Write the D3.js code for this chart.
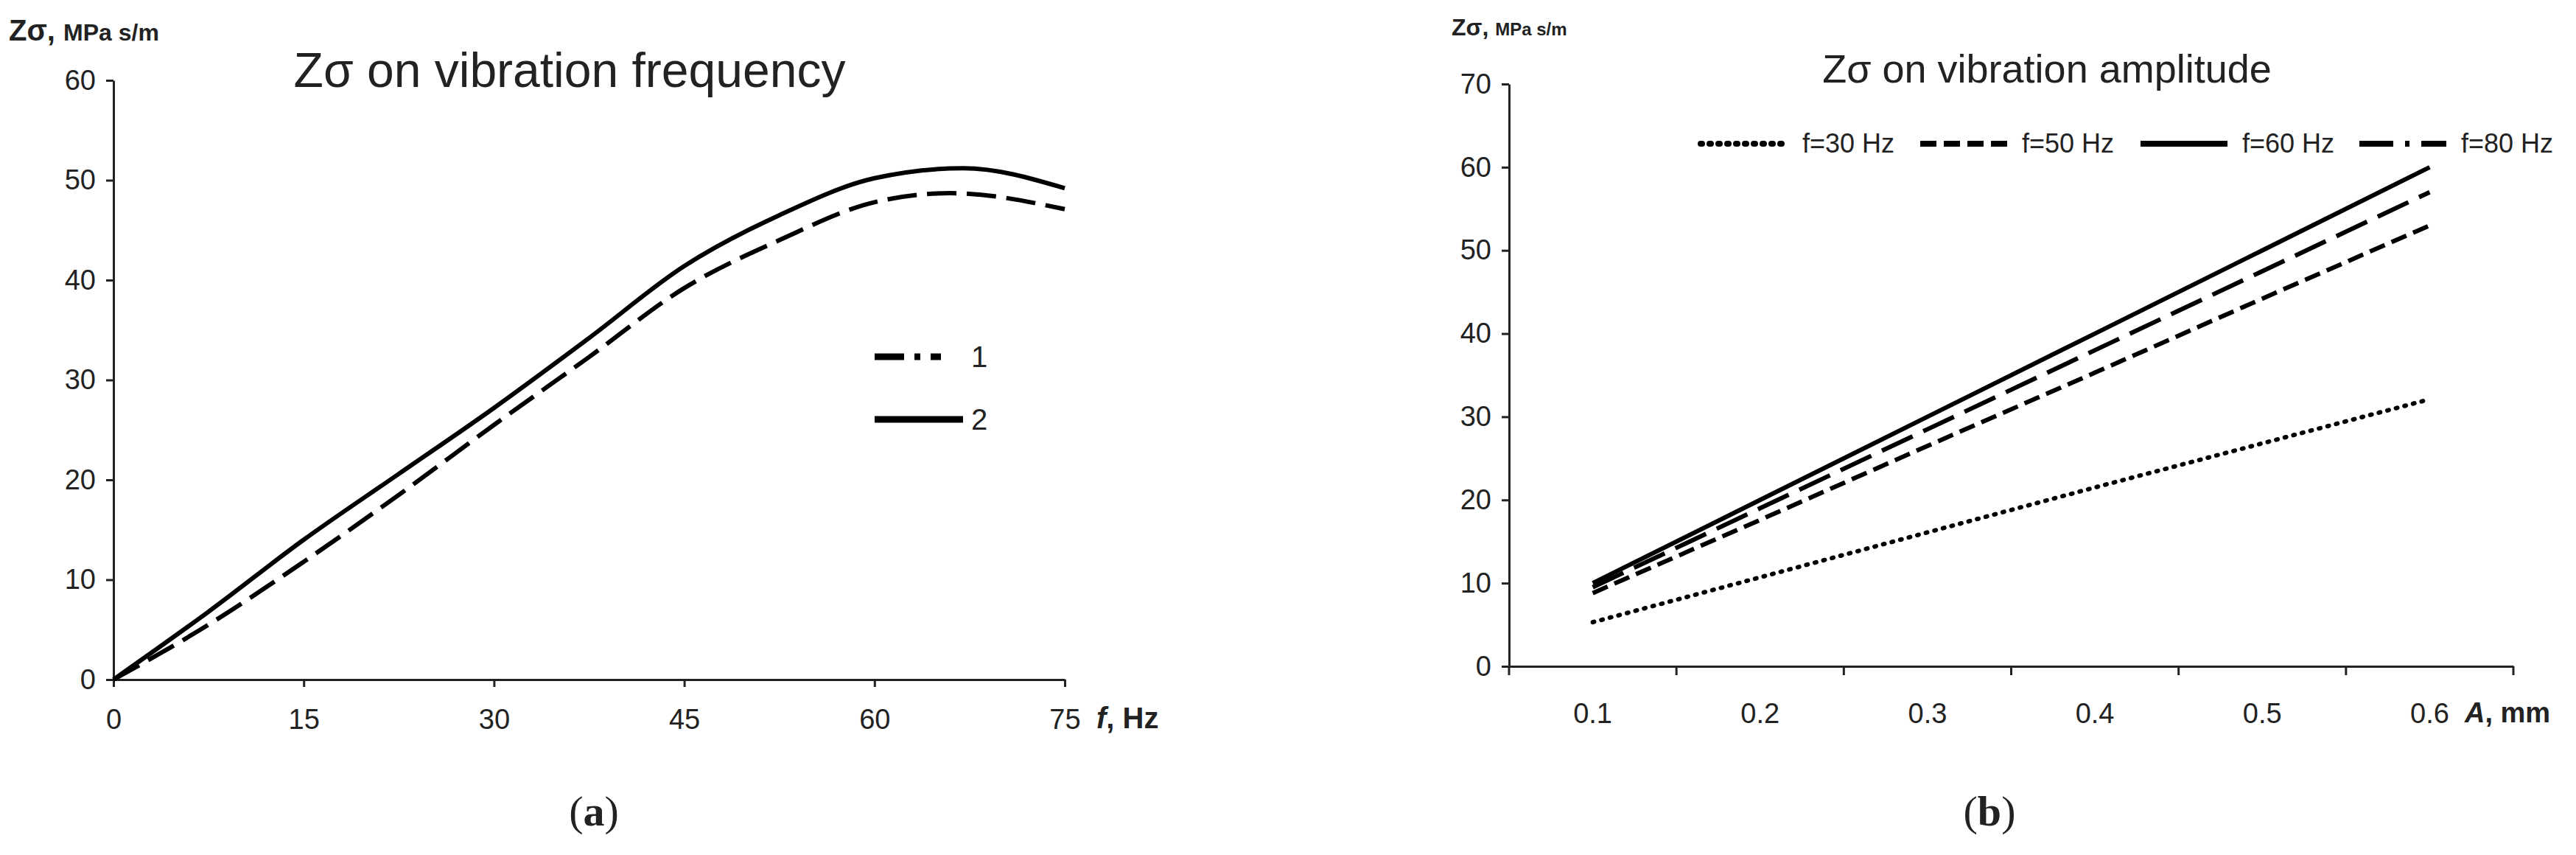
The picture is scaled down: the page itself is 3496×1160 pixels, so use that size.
<!DOCTYPE html>
<html><head><meta charset="utf-8">
<script src="https://cdn.jsdelivr.net/npm/d3@7"></script>
<style>
body{margin:0;background:#fff;}
text{font-family:"Liberation Sans Narrow","Liberation Sans",sans-serif;fill:#222;}
</style></head>
<body><svg id="c" width="3496" height="1160"></svg>
<script>
// panel (a): Zσ vs frequency
var freq1 = [0, 7.5, 15, 22.5, 30, 37.5, 45, 52.5, 60, 66, 75];
var curve1 = [0, 5.5, 11.8, 18.5, 25.5, 32.3, 39.2, 44, 47.8, 48.7, 47.1];
var freq2 = [0, 7.5, 15, 22.5, 30, 37.5, 45, 52.5, 60, 67, 75];
var curve2 = [0, 6.8, 14, 20.6, 27.2, 34.2, 41.4, 46.5, 50.2, 51.2, 49.2];
var freqTicks = [0, 15, 30, 45, 60, 75];
var zTicksA = [0, 10, 20, 30, 40, 50, 60];

// panel (b): Zσ vs amplitude
var amps = ["0.1", "0.2", "0.3", "0.4", "0.5", "0.6"];
var f30 = [5.3, 10.7, 16.1, 21.5, 26.8, 32.1];
var f50 = [8.8, 17.6, 26.5, 35.3, 44.2, 53];
var f60 = [10, 20, 30, 40, 50, 60];
var f80 = [9.5, 19, 28.5, 38, 47.5, 57];
var seriesNames = ["f=30 Hz", "f=50 Hz", "f=60 Hz", "f=80 Hz"];
var zTicksB = [0, 10, 20, 30, 40, 50, 60, 70];

var svg = d3.select("#c");

function styleAxis(g) {
    g.selectAll("path,line").attr("stroke", "#222").attr("stroke-width", 3);
    g.selectAll("text").style("font-size", "38px").attr("fill", "#222");
}

// ---- panel a
var xa = d3.scaleLinear().domain([0, 75]).range([154, 1445]);
var ya = d3.scaleLinear().domain([0, 60]).range([922, 109]);

svg.append("g").attr("transform", "translate(0,922)")
    .call(d3.axisBottom(xa).tickValues(freqTicks).tickSize(10).tickPadding(30).tickSizeOuter(0))
    .call(styleAxis);
svg.append("g").attr("transform", "translate(154,0)")
    .call(d3.axisLeft(ya).tickValues(zTicksA).tickSize(10).tickPadding(14).tickSizeOuter(0))
    .call(styleAxis);

var lineA = d3.line().x(function(d){return xa(d[0]);}).y(function(d){return ya(d[1]);}).curve(d3.curveMonotoneX);
svg.append("path").datum(d3.zip(freq1, curve1)).attr("d", lineA)
    .attr("fill", "none").attr("stroke", "#000").attr("stroke-width", 6).attr("stroke-dasharray", "40,14");
svg.append("path").datum(d3.zip(freq2, curve2)).attr("d", lineA)
    .attr("fill", "none").attr("stroke", "#000").attr("stroke-width", 6);

// legend a
svg.append("line").attr("x1", 1187).attr("x2", 1277).attr("y1", 484).attr("y2", 484)
    .attr("stroke", "#000").attr("stroke-width", 9).attr("stroke-dasharray", "40,14,8,14");
svg.append("text").attr("x", 1318).attr("y", 498).text("1").style("font-size", "40px");
svg.append("line").attr("x1", 1187).attr("x2", 1307).attr("y1", 569).attr("y2", 569)
    .attr("stroke", "#000").attr("stroke-width", 9);
svg.append("text").attr("x", 1318).attr("y", 583).text("2").style("font-size", "40px");

svg.append("text").attr("x", 773).attr("y", 118).attr("text-anchor", "middle")
    .style("font-size", "66px").text("Zσ on vibration frequency");
svg.append("text").attr("x", 12).attr("y", 55).style("font-size", "40px").style("font-weight", "bold")
    .html('Zσ, <tspan style="font-size:32px">MPa s/m</tspan>');
svg.append("text").attr("x", 1488).attr("y", 988).style("font-size", "40px").style("font-weight", "bold")
    .html('<tspan font-style="italic">f</tspan>, Hz');
svg.append("text").attr("x", 806).attr("y", 1120).attr("text-anchor", "middle")
    .style("font-family", "'Liberation Serif',serif").style("font-size", "58px")
    .html('(<tspan font-weight="bold">a</tspan>)');

// ---- panel b
var xb = d3.scaleBand().domain(amps).range([2048, 3411]);
var yb = d3.scaleLinear().domain([0, 70]).range([904, 114]);

var gx = svg.append("g").attr("transform", "translate(0,904)")
    .call(d3.axisBottom(xb).tickSize(0).tickPadding(50).tickSizeOuter(0))
    .call(styleAxis);
gx.selectAll(".sep").data(d3.range(amps.length + 1)).enter().append("line")
    .attr("x1", function(i){return 2048 + i * xb.step();}).attr("x2", function(i){return 2048 + i * xb.step();})
    .attr("y1", 0).attr("y2", 12).attr("stroke", "#222").attr("stroke-width", 3);
svg.append("g").attr("transform", "translate(2048,0)")
    .call(d3.axisLeft(yb).tickValues(zTicksB).tickSize(10).tickPadding(14).tickSizeOuter(0))
    .call(styleAxis);

var dashes = ["2,10", "22,10", null, "46,16"];
var caps = ["round", "butt", "butt", "butt"];
var lineB = d3.line().x(function(d){return xb(d[0]) + xb.bandwidth() / 2;}).y(function(d){return yb(d[1]);});
[f30, f50, f60, f80].forEach(function(vals, i) {
    svg.append("path").datum(d3.zip(amps, vals)).attr("d", lineB)
        .attr("fill", "none").attr("stroke", "#000").attr("stroke-width", 6)
        .attr("stroke-linecap", caps[i]).attr("stroke-dasharray", dashes[i]);
});

// legend b
var legX = [2308, 2606, 2905, 3202];
seriesNames.forEach(function(name, i) {
    svg.append("line").attr("x1", legX[i]).attr("x2", legX[i] + 118).attr("y1", 195).attr("y2", 195)
        .attr("stroke", "#000").attr("stroke-width", 8).attr("stroke-linecap", caps[i])
        .attr("stroke-dasharray", i === 3 ? "46,16,6,16" : dashes[i]);
    svg.append("text").attr("x", legX[i] + 138).attr("y", 207).style("font-size", "36px").text(name);
});

svg.append("text").attr("x", 2778).attr("y", 112).attr("text-anchor", "middle")
    .style("font-size", "54px").text("Zσ on vibration amplitude");
svg.append("text").attr("x", 1970).attr("y", 48).style("font-size", "32px").style("font-weight", "bold")
    .html('Zσ, <tspan style="font-size:24px">MPa s/m</tspan>');
svg.append("text").attr("x", 3345).attr("y", 980).style("font-size", "38px").style("font-weight", "bold")
    .html('<tspan font-style="italic">A</tspan>, mm');
svg.append("text").attr("x", 2700).attr("y", 1120).attr("text-anchor", "middle")
    .style("font-family", "'Liberation Serif',serif").style("font-size", "58px")
    .html('(<tspan font-weight="bold">b</tspan>)');
</script></body></html>
